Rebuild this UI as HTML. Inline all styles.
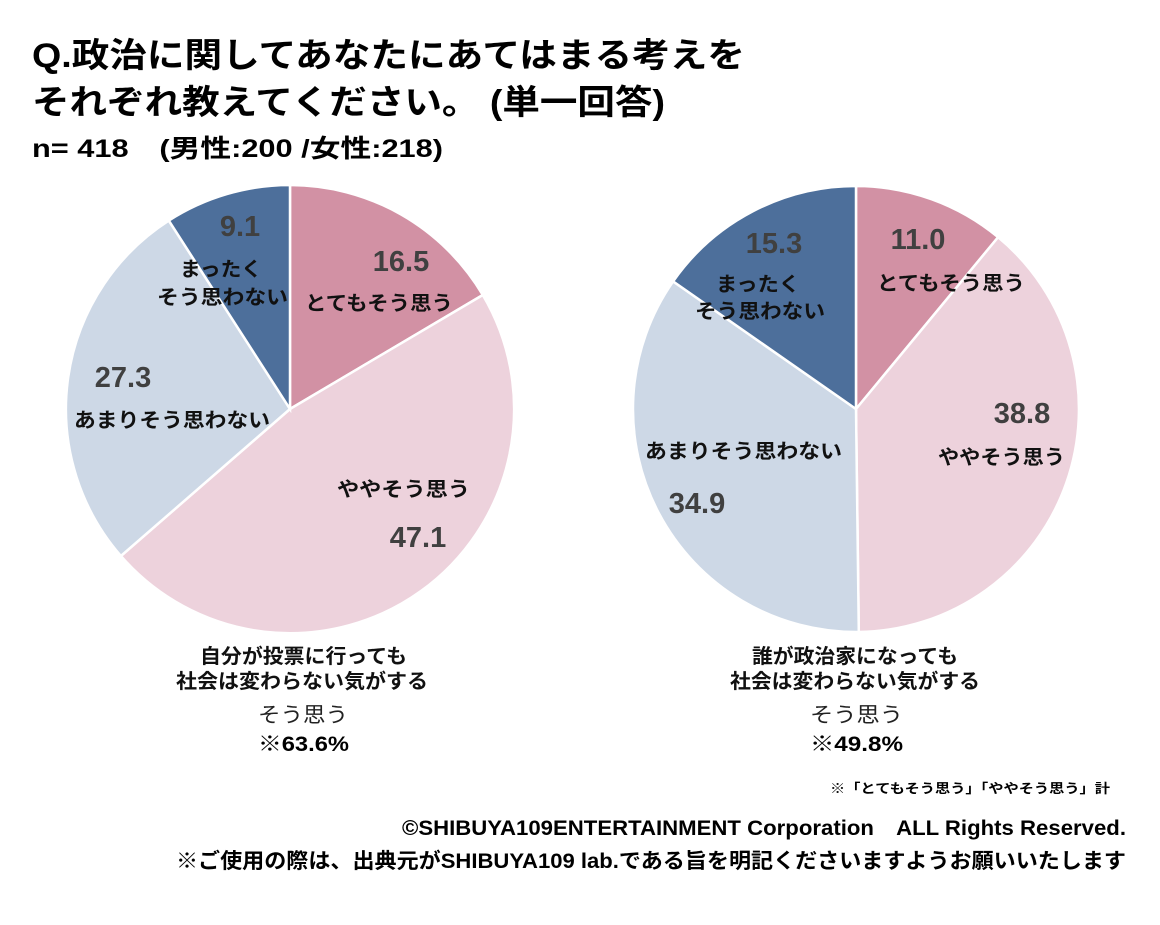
<!DOCTYPE html>
<html><head><meta charset="utf-8"><style>
body{margin:0;background:#fff;}
svg text{font-family:"Liberation Sans","Noto Sans CJK JP",sans-serif;}
</style></head><body>
<svg width="1160" height="920" viewBox="0 0 1160 920" xmlns="http://www.w3.org/2000/svg">
<rect width="1160" height="920" fill="#fff"/>
<g font-weight="bold" fill="#000" lengthAdjust="spacingAndGlyphs">
<text x="32" y="67" font-size="34" textLength="713" lengthAdjust="spacingAndGlyphs">Q.政治に関してあなたにあてはまる考えを</text>
<text x="32" y="114" font-size="34" textLength="633" lengthAdjust="spacingAndGlyphs">それぞれ教えてください。 (単一回答)</text>
<text x="32" y="157" font-size="25" textLength="411" lengthAdjust="spacingAndGlyphs">n= 418　(男性:200 /女性:218)</text>
</g>
<g stroke="#fff" stroke-width="2.5">
<path d="M290,409 L290,185 A224,224 0 0 1 482.8,295.0 Z" fill="#D291A4"/>
<path d="M290,409 L482.8,295.0 A224,224 0 0 1 120.9,556.0 Z" fill="#EDD2DC"/>
<path d="M290,409 L120.9,556.0 A224,224 0 0 1 168.8,220.6 Z" fill="#CDD8E6"/>
<path d="M290,409 L168.8,220.6 A224,224 0 0 1 290,185 Z" fill="#4D6F9B"/>
<path d="M856,409 L856,186 A223,223 0 0 1 998.1,237.2 Z" fill="#D291A4"/>
<path d="M856,409 L998.1,237.2 A223,223 0 0 1 858.8,632.0 Z" fill="#EDD2DC"/>
<path d="M856,409 L858.8,632.0 A223,223 0 0 1 673.1,281.4 Z" fill="#CDD8E6"/>
<path d="M856,409 L673.1,281.4 A223,223 0 0 1 856,186 Z" fill="#4D6F9B"/>
</g>
<g font-size="29" font-weight="bold" fill="#404040" text-anchor="middle">
<text x="240" y="236">9.1</text>
<text x="401" y="271">16.5</text>
<text x="123" y="387">27.3</text>
<text x="418" y="547">47.1</text>
<text x="774" y="253">15.3</text>
<text x="918" y="249">11.0</text>
<text x="1022" y="423">38.8</text>
<text x="697" y="513">34.9</text>
</g>
<g font-size="20" font-weight="bold" fill="#111">
<text x="180" y="276" textLength="82" lengthAdjust="spacingAndGlyphs">まったく</text>
<text x="157" y="304" textLength="131" lengthAdjust="spacingAndGlyphs">そう思わない</text>
<text x="305" y="310" textLength="148" lengthAdjust="spacingAndGlyphs">とてもそう思う</text>
<text x="74" y="427" textLength="196" lengthAdjust="spacingAndGlyphs">あまりそう思わない</text>
<text x="337" y="496" textLength="133" lengthAdjust="spacingAndGlyphs">ややそう思う</text>
<text x="716" y="291" textLength="84" lengthAdjust="spacingAndGlyphs">まったく</text>
<text x="695" y="318" textLength="130" lengthAdjust="spacingAndGlyphs">そう思わない</text>
<text x="877" y="290" textLength="148" lengthAdjust="spacingAndGlyphs">とてもそう思う</text>
<text x="938" y="464" textLength="127" lengthAdjust="spacingAndGlyphs">ややそう思う</text>
<text x="645" y="458" textLength="197" lengthAdjust="spacingAndGlyphs">あまりそう思わない</text>
<text x="200" y="663" textLength="207" lengthAdjust="spacingAndGlyphs">自分が投票に行っても</text>
<text x="176" y="688" textLength="252" lengthAdjust="spacingAndGlyphs">社会は変わらない気がする</text>
<text x="752" y="663" textLength="206" lengthAdjust="spacingAndGlyphs">誰が政治家になっても</text>
<text x="730" y="688" textLength="250" lengthAdjust="spacingAndGlyphs">社会は変わらない気がする</text>
</g>
<g font-size="21" fill="#222">
<text x="258" y="722" textLength="90" lengthAdjust="spacingAndGlyphs">そう思う</text>
<text x="810" y="722" textLength="93" lengthAdjust="spacingAndGlyphs">そう思う</text>
</g>
<g font-size="21" font-weight="bold" fill="#000">
<text x="258" y="751" textLength="91" lengthAdjust="spacingAndGlyphs">※63.6%</text>
<text x="810" y="751" textLength="93" lengthAdjust="spacingAndGlyphs">※49.8%</text>
</g>
<text x="830" y="793" font-size="13" font-weight="bold" textLength="280" lengthAdjust="spacingAndGlyphs">※「とてもそう思う」「ややそう思う」計</text>
<g font-size="21" font-weight="bold" fill="#000">
<text x="402" y="835" textLength="724" lengthAdjust="spacingAndGlyphs">©SHIBUYA109ENTERTAINMENT Corporation　ALL Rights Reserved.</text>
<text x="176" y="868" textLength="950" lengthAdjust="spacingAndGlyphs">※ご使用の際は、出典元がSHIBUYA109 lab.である旨を明記くださいますようお願いいたします</text>
</g>
</svg>
</body></html>
